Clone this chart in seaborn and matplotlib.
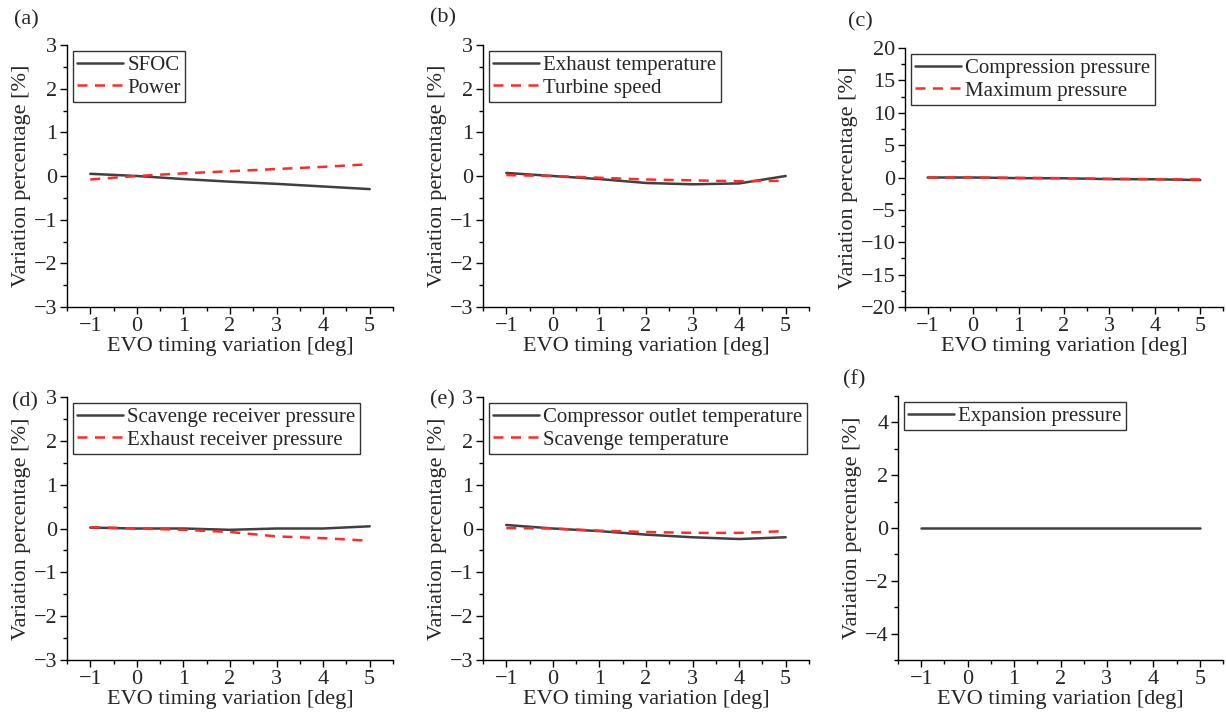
import numpy as np
import pandas as pd
import seaborn as sns
import matplotlib.pyplot as plt
from matplotlib.ticker import MultipleLocator

# EVO timing variation [deg]
evo = [-1, 0, 1, 2, 3, 4, 5]

sfoc = [0.05, 0.0, -0.07, -0.13, -0.18, -0.24, -0.30]
power = [-0.08, 0.0, 0.06, 0.11, 0.16, 0.21, 0.27]

exhaust_temp = [0.07, 0.0, -0.07, -0.16, -0.19, -0.17, 0.0]
turbine_speed = [0.02, 0.0, -0.04, -0.08, -0.10, -0.12, -0.11]

compression_p = [0.0, 0.0, -0.1, -0.12, -0.25, -0.27, -0.4]
maximum_p = [0.0, 0.0, -0.05, -0.1, -0.2, -0.25, -0.3]

scav_receiver_p = [0.02, 0.0, 0.0, -0.03, 0.0, 0.0, 0.05]
exh_receiver_p = [0.03, 0.0, -0.03, -0.08, -0.18, -0.22, -0.28]

comp_outlet_temp = [0.08, 0.0, -0.06, -0.14, -0.20, -0.24, -0.20]
scavenge_temp = [0.01, 0.0, -0.05, -0.08, -0.10, -0.10, -0.06]

expansion_p = [0.0, 0.0, 0.0, 0.0, 0.0, 0.0, 0.0]

panels = [
    ("(a)", ["SFOC", "Power"], [sfoc, power], (-3, 3), 1, 0.5),
    ("(b)", ["Exhaust temperature", "Turbine speed"], [exhaust_temp, turbine_speed], (-3, 3), 1, 0.5),
    ("(c)", ["Compression pressure", "Maximum pressure"], [compression_p, maximum_p], (-20, 20), 5, 2.5),
    ("(d)", ["Scavenge receiver pressure", "Exhaust receiver pressure"], [scav_receiver_p, exh_receiver_p], (-3, 3), 1, 0.5),
    ("(e)", ["Compressor outlet temperature", "Scavenge temperature"], [comp_outlet_temp, scavenge_temp], (-3, 3), 1, 0.5),
    ("(f)", ["Expansion pressure"], [expansion_p], (-5, 5), 2, 1),
]

sns.set_style("ticks")
plt.rcParams['font.family'] = ['Liberation Serif', 'DejaVu Serif']
plt.rcParams['axes.unicode_minus'] = True

fig = plt.figure(figsize=(12.26, 7.15), dpi=100)

lefts = [67, 483, 905, 67, 483, 898]
widths = [326, 326, 318, 326, 326, 325]
tops = [45, 45, 48, 397, 397, 396]
bottoms = [307, 307, 307, 660, 660, 660]
label_pos = [(14, 20), (430, 18), (848, 22), (12, 402), (430, 400), (843, 380)]

palette = ["#404040", "#ff2a2a"]
styles = ["-", (0, (4, 3))]

for i, (tag, names, series, ylim, major, minor) in enumerate(panels):
    l, w, t, b = lefts[i], widths[i], tops[i], bottoms[i]
    ax = fig.add_axes([l / 1226, 1 - b / 715, w / 1226, (b - t) / 715])
    for j, (name, vals) in enumerate(zip(names, series)):
        df = pd.DataFrame({"x": evo, "y": vals})
        sns.lineplot(data=df, x="x", y="y", ax=ax, color=palette[j],
                     linewidth=1.8, linestyle=styles[j], label=name)
    ax.set_xlim(-1.5, 5.5)
    ax.set_ylim(*ylim)
    ax.xaxis.set_major_locator(MultipleLocator(1))
    ax.xaxis.set_minor_locator(MultipleLocator(0.5))
    ax.yaxis.set_major_locator(MultipleLocator(major))
    ax.yaxis.set_minor_locator(MultipleLocator(minor))
    ax.tick_params(which="major", length=5, width=1, labelsize=16, pad=2, color="black")
    ax.tick_params(which="minor", length=3, width=1, color="black")
    for s in ["left", "bottom"]:
        ax.spines[s].set_linewidth(1.0)
        ax.spines[s].set_color("black")
    sns.despine(ax=ax)
    ax.set_xlabel("EVO timing variation [deg]", fontsize=16, labelpad=1)
    ax.set_ylabel("Variation percentage [%]", fontsize=16, labelpad=2)
    leg = ax.legend(loc="upper left", fontsize=15, frameon=True, fancybox=False,
                    edgecolor="black", handlelength=2.2, handletextpad=0.2,
                    labelspacing=0.15, borderpad=0.2, borderaxespad=0.3)
    leg.get_frame().set_linewidth(1.0)
    fig.text(label_pos[i][0] / 1226, 1 - label_pos[i][1] / 715, tag,
             fontsize=16, ha="left", va="center")

fig.savefig("out.png", dpi=100)
